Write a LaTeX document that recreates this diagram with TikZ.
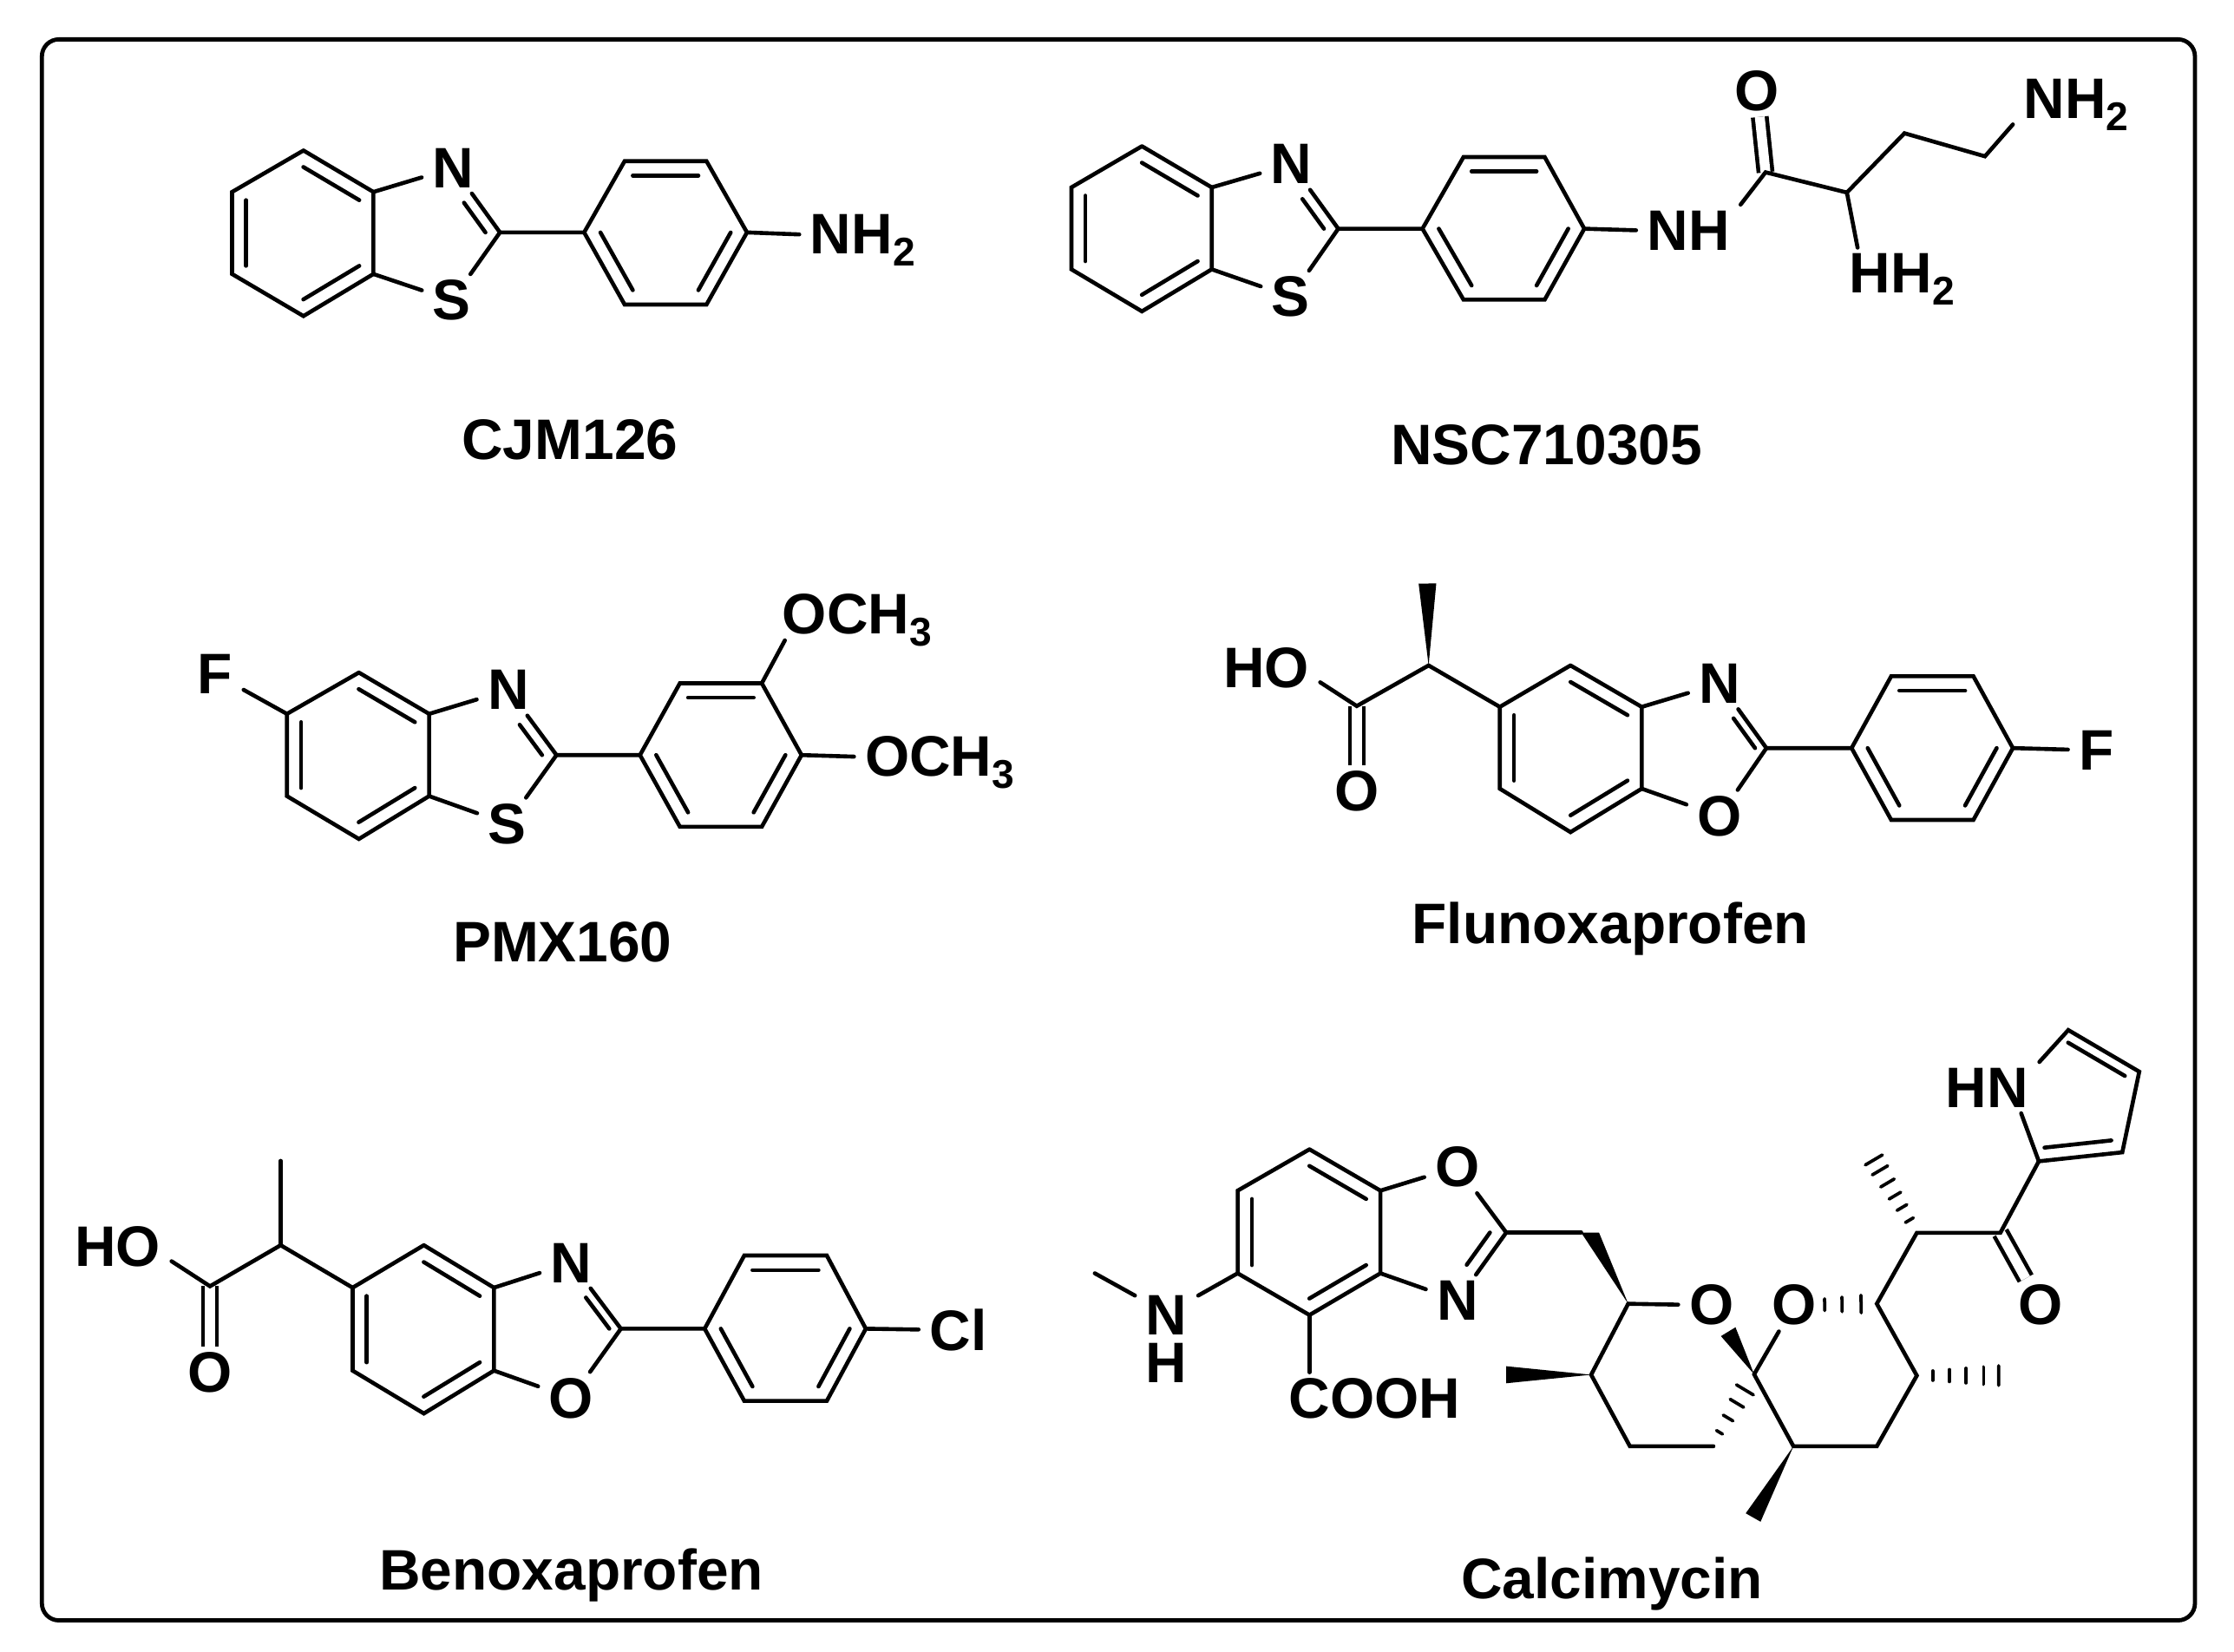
\documentclass[tikz,border=0pt]{standalone}
\usepackage{fontspec}
\setmainfont{Liberation Sans}
\usetikzlibrary{calc}
\tikzset{
	bond/.style={line width=0.8pt, line cap=round},
	dbond/.style={line width=0.8pt, double, double distance=1.96pt},
	wedgebond/.style={fill=black},
	atom/.style={font=\bfseries\fontsize{11.4}{13}\selectfont, inner xsep=2pt, inner ysep=1pt},
	molname/.style={font=\bfseries\fontsize{11.4}{13}\selectfont, inner sep=0pt, anchor=base},
	frame/.style={line width=0.83pt, rounded corners=3.4pt}
}
\newcommand{\subnum}[1]{\smash{\raisebox{-2.4pt}{\fontsize{8}{8}\selectfont #1}}}
\newcommand{\innerline}[4][]{\draw [bond,#1]($(#2)!.2!(#4)$)--($(#3)!.2!(#4)$);}
\newcommand{\hashbond}[3]{\foreach \t [evaluate=\t as \w using 0.7+1.3*\t] in {#3}{
	\draw [line width=0.65pt, line cap=round]($(#1)!\t!(#2)!\w pt!90:(#2)$)--($(#1)!\t!(#2)!\w pt!-90:(#2)$);}}
\begin{document}
\begin{tikzpicture}[x=0.01cm, y=-0.01cm]
	\useasboundingbox (0,0) rectangle (1568,1159);
	\coordinate (f1) at (29.4,27.6);
	\coordinate (f2) at (1540.6,1137.2);
	\draw [frame](f1) rectangle (f2);

	\coordinate (a1) at (213,105.6);
	\coordinate (a2) at (262.1,134.7);
	\coordinate (a3) at (262.1,192.3);
	\coordinate (a4) at (213,221.8);
	\coordinate (a5) at (162.9,192.3);
	\coordinate (a6) at (162.9,134.7);
	\coordinate (a7) at (350.9,163.1);
	\coordinate (ar) at (212.5,163.5);
	\coordinate (az) at (300,163.1);
	\node (an)[atom] at (318.2,117.8) {N};
	\node (as)[atom] at (317.2,210.8) {S};
	\coordinate (ap1) at (410,163.1);
	\coordinate (ap2) at (438.4,113.1);
	\coordinate (ap3) at (495.9,113.1);
	\coordinate (ap4) at (524.3,163.1);
	\coordinate (ap5) at (495.9,213.7);
	\coordinate (ap6) at (438.4,213.7);
	\coordinate (apc) at (467.2,163.3);
	\node (anh)[atom] at (605.5,164.5) {NH\subnum{2}};
	\draw [bond](a1)--(a2)--(a3)--(a4)--(a5)--(a6)--(a1);
	\draw [bond](a2)--(an);
	\draw [bond](a3)--(as);
	\draw [bond](an)--(a7)--(as);
	\draw [bond](a7)--(ap1)--(ap2)--(ap3)--(ap4)--(ap5)--(ap6)--(ap1);
	\draw [bond](ap4)--(anh.west);
	\innerline{a1}{a2}{ar}
	\innerline{a3}{a4}{ar}
	\innerline{a5}{a6}{ar}
	\innerline[shorten >=5.4pt]{a7}{an}{az}
	\innerline{ap2}{ap3}{apc}
	\innerline{ap1}{ap6}{apc}
	\innerline{ap4}{ap5}{apc}
	\node (cjm)[molname] at (400,322.5) {CJM126};

	\coordinate (b1) at (801.5,102.6);
	\coordinate (b2) at (850.5,131.5);
	\coordinate (b3) at (850.5,189);
	\coordinate (b4) at (801.5,218.5);
	\coordinate (b5) at (752,189);
	\coordinate (b6) at (752,131.5);
	\coordinate (b7) at (939.3,160.5);
	\coordinate (br) at (801.3,160.5);
	\coordinate (bz) at (889,160.5);
	\node (bn)[atom] at (906.5,115.2) {N};
	\node (bs)[atom] at (906,208.3) {S};
	\coordinate (bp1) at (998.4,160.5);
	\coordinate (bp2) at (1027.2,110.2);
	\coordinate (bp3) at (1084.2,110.2);
	\coordinate (bp4) at (1112,160.5);
	\coordinate (bp5) at (1084.2,210.3);
	\coordinate (bp6) at (1027.2,210.3);
	\coordinate (bpc) at (1055.7,160.5);
	\node (bnh)[atom] at (1185,161.6) {NH};
	\coordinate (b8) at (1239.2,120.9);
	\node (bo)[atom] at (1233.2,63.6) {O};
	\coordinate (b9) at (1296.3,135.1);
	\coordinate (b10) at (1336.7,93.5);
	\coordinate (b11) at (1393.2,109.7);
	\node (bnh2)[atom] at (1457.3,69.3) {NH\subnum{2}};
	\node (bhh)[atom] at (1335,191.8) {HH\subnum{2}};
	\draw [dbond](b8)--(bo);
	\draw [bond](b1)--(b2)--(b3)--(b4)--(b5)--(b6)--(b1);
	\draw [bond](b2)--(bn);
	\draw [bond](b3)--(bs);
	\draw [bond](bn)--(b7)--(bs);
	\draw [bond](b7)--(bp1)--(bp2)--(bp3)--(bp4)--(bp5)--(bp6)--(bp1);
	\draw [bond](bp4)--(bnh.west);
	\draw [bond](bnh.north east)--(b8)--(b9)--(b10)--(b11)--(bnh2.south west);
	\draw [bond](b9)--(bhh.150);
	\innerline{b1}{b2}{br}
	\innerline{b3}{b4}{br}
	\innerline{b5}{b6}{br}
	\innerline[shorten >=5.4pt]{b7}{bn}{bz}
	\innerline{bp2}{bp3}{bpc}
	\innerline{bp1}{bp6}{bpc}
	\innerline{bp4}{bp5}{bpc}
	\node (nsc)[molname] at (1085.5,326.2) {NSC710305};

	\coordinate (c1) at (251.9,472);
	\coordinate (c2) at (301.2,501);
	\coordinate (c3) at (301.2,558.7);
	\coordinate (c4) at (251.9,588.8);
	\coordinate (c5) at (201.4,558.7);
	\coordinate (c6) at (201.4,501);
	\coordinate (c7) at (390.6,529.9);
	\coordinate (cr) at (251.3,530);
	\coordinate (cz) at (340,529.9);
	\node (cf)[atom] at (151,473) {F};
	\node (cn)[atom] at (356.8,484.2) {N};
	\node (cs)[atom] at (356,578.2) {S};
	\coordinate (cp1) at (449.2,529.9);
	\coordinate (cp2) at (477.2,479.5);
	\coordinate (cp3) at (534.7,479.5);
	\coordinate (cp4) at (562.6,529.9);
	\coordinate (cp5) at (534.7,580.2);
	\coordinate (cp6) at (477.2,580.2);
	\coordinate (cpc) at (506,529.9);
	\node (cme1)[atom] at (601.5,431) {OCH\subnum{3}};
	\node (cme2)[atom] at (659.5,531) {OCH\subnum{3}};
	\draw [bond](c1)--(c2)--(c3)--(c4)--(c5)--(c6)--(c1);
	\draw [bond](c6)--(cf);
	\draw [bond](c2)--(cn);
	\draw [bond](c3)--(cs);
	\draw [bond](cn)--(c7)--(cs);
	\draw [bond](c7)--(cp1)--(cp2)--(cp3)--(cp4)--(cp5)--(cp6)--(cp1);
	\draw [bond](cp3)--(cme1.200);
	\draw [bond](cp4)--(cme2.west);
	\innerline{c1}{c2}{cr}
	\innerline{c3}{c4}{cr}
	\innerline{c5}{c6}{cr}
	\innerline[shorten >=5.4pt]{c7}{cn}{cz}
	\innerline{cp2}{cp3}{cpc}
	\innerline{cp1}{cp6}{cpc}
	\innerline{cp4}{cp5}{cpc}
	\node (pmx)[molname] at (394.8,675) {PMX160};

	\coordinate (d1) at (1102.3,467);
	\coordinate (d2) at (1152.3,496.1);
	\coordinate (d3) at (1152.3,553.5);
	\coordinate (d4) at (1102.3,584);
	\coordinate (d5) at (1052.7,553.5);
	\coordinate (d6) at (1052.7,496.1);
	\coordinate (d7) at (1239.8,525);
	\coordinate (dr) at (1102.5,525);
	\coordinate (dz) at (1200,525);
	\node (dn)[atom] at (1207,479.7) {N};
	\node (do)[atom] at (1207,572.8) {O};
	\coordinate (dp1) at (1299.6,525);
	\coordinate (dp2) at (1327.4,474.6);
	\coordinate (dp3) at (1385.1,474.6);
	\coordinate (dp4) at (1412.8,525);
	\coordinate (dp5) at (1385.1,575.4);
	\coordinate (dp6) at (1327.4,575.4);
	\coordinate (dpc) at (1356,525);
	\node (df)[atom] at (1471.4,526.6) {F};
	\coordinate (d8) at (1002.7,467);
	\coordinate (d9) at (952.3,495.5);
	\coordinate (dm) at (1001.9,409.5);
	\node (dho)[atom] at (888.8,468.7) {HO};
	\node (do2)[atom] at (952.3,555.5) {O};
	\draw [dbond](d9)--(do2);
	\draw [bond](d1)--(d2)--(d3)--(d4)--(d5)--(d6)--(d1);
	\draw [bond](d2)--(dn);
	\draw [bond](d3)--(do);
	\draw [bond](dn)--(d7)--(do);
	\draw [bond](d7)--(dp1)--(dp2)--(dp3)--(dp4)--(dp5)--(dp6)--(dp1);
	\draw [bond](dp4)--(df);
	\draw [bond](d6)--(d8)--(d9)--(dho.-15);
	\fill [wedgebond](d8)--($(dm)!1.76pt!90:(d8)$)--($(dm)!1.76pt!-90:(d8)$)--cycle;
	\innerline{d1}{d2}{dr}
	\innerline{d3}{d4}{dr}
	\innerline{d5}{d6}{dr}
	\innerline[shorten >=5.4pt]{d7}{dn}{dz}
	\innerline{dp2}{dp3}{dpc}
	\innerline{dp1}{dp6}{dpc}
	\innerline{dp4}{dp5}{dpc}
	\node (flu)[molname] at (1130.3,662.2) {Flunoxaprofen};

	\coordinate (e1) at (297.5,873.9);
	\coordinate (e2) at (346.7,903.7);
	\coordinate (e3) at (346.7,961.9);
	\coordinate (e4) at (297.5,992);
	\coordinate (e5) at (247.5,961.9);
	\coordinate (e6) at (247.5,903.7);
	\coordinate (e7) at (435.8,932.5);
	\coordinate (er) at (297.1,932.9);
	\coordinate (ez) at (395,932.5);
	\node (en)[atom] at (401,886.2) {N};
	\node (eo)[atom] at (401,981.2) {O};
	\coordinate (ep1) at (494.6,932.5);
	\coordinate (ep2) at (522.4,881.1);
	\coordinate (ep3) at (580.3,881.1);
	\coordinate (ep4) at (607.7,932.5);
	\coordinate (ep5) at (580.3,983.2);
	\coordinate (ep6) at (522.4,983.2);
	\coordinate (epc) at (551.2,932.5);
	\node (ecl)[atom] at (672.5,933.5) {Cl};
	\coordinate (e8) at (197,873.9);
	\coordinate (e9) at (147.4,902.7);
	\coordinate (em) at (197,814.7);
	\node (eho)[atom] at (82.6,875) {HO};
	\node (eo2)[atom] at (147.4,963.3) {O};
	\draw [dbond](e9)--(eo2);
	\draw [bond](e1)--(e2)--(e3)--(e4)--(e5)--(e6)--(e1);
	\draw [bond](e2)--(en);
	\draw [bond](e3)--(eo);
	\draw [bond](en)--(e7)--(eo);
	\draw [bond](e7)--(ep1)--(ep2)--(ep3)--(ep4)--(ep5)--(ep6)--(ep1);
	\draw [bond](ep4)--(ecl);
	\draw [bond](e6)--(e8)--(e9)--(eho.-15);
	\draw [bond](e8)--(em);
	\innerline{e1}{e2}{er}
	\innerline{e3}{e4}{er}
	\innerline{e5}{e6}{er}
	\innerline[shorten >=5.4pt]{e7}{en}{ez}
	\innerline{ep2}{ep3}{epc}
	\innerline{ep1}{ep6}{epc}
	\innerline{ep4}{ep5}{epc}
	\node (ben)[molname] at (401,1116) {Benoxaprofen};

	\coordinate (g1) at (919.1,806.6);
	\coordinate (g2) at (968.9,835.6);
	\coordinate (g3) at (968.9,893.6);
	\coordinate (g4) at (919.1,922.9);
	\coordinate (g5) at (868.7,893.6);
	\coordinate (g6) at (868.7,835.6);
	\coordinate (g7) at (1057.2,865);
	\coordinate (gr) at (918.8,864.9);
	\coordinate (gz) at (1000,865);
	\node (go)[atom] at (1023,819) {O};
	\node (gn)[atom] at (1023,912.6) {N};
	\node (gnh)[atom, align=center, font=\bfseries\fontsize{11.4}{9.6}\selectfont] at (818.8,939.8) {N\\H};
	\coordinate (gm) at (768.4,893.6);
	\node (gco)[atom] at (965,981.5) {COOH};
	\coordinate (g8) at (1109.8,865);
	\coordinate (g9) at (1142.8,915);
	\node (go1)[atom] at (1201.2,916) {O};
	\coordinate (g10) at (1116.8,964.8);
	\coordinate (gm2) at (1057.2,964.8);
	\coordinate (g11) at (1144,1015);
	\coordinate (g12) at (1202.6,1015);
	\coordinate (g13) at (1231.2,964.5);
	\coordinate (gm3) at (1213,934.6);
	\coordinate (gd1) at (1206.9,1005.2);
	\coordinate (gd2) at (1225.1,974.8);
	\node (go2)[atom] at (1259.2,916) {O};
	\coordinate (g14) at (1258.8,1015);
	\coordinate (gm4) at (1230.5,1065);
	\coordinate (g15) at (1317.3,1015);
	\coordinate (g16) at (1345.4,965.4);
	\coordinate (gm5) at (1404,965.4);
	\coordinate (g17) at (1317.3,915);
	\coordinate (g18) at (1345.4,865.2);
	\coordinate (gm6) at (1314.6,813);
	\coordinate (g19) at (1404,865.2);
	\node (go3)[atom] at (1432,915.6) {O};
	\coordinate (g20) at (1431,815);
	\coordinate (g21) at (1489.6,808.7);
	\coordinate (g22) at (1501.5,752.1);
	\coordinate (g23) at (1451.7,722.9);
	\coordinate (gpc) at (1451,767);
	\node (ghn)[atom] at (1394.7,763.3) {HN};
	\draw [dbond](g19)--(go3);
	\draw [bond](g1)--(g2)--(g3)--(g4)--(g5)--(g6)--(g1);
	\draw [bond](g2)--(go);
	\draw [bond](g3)--(gn);
	\draw [bond](go)--(g7)--(gn);
	\draw [bond](g7)--(g8);
	\draw [bond](g5)--(gnh.54);
	\draw [bond](gnh.126)--(gm);
	\draw [bond](g4)--(g4|-gco.north);
	\draw [bond](g9)--(go1);
	\draw [bond](g9)--(g10)--(g11)--(g12);
	\draw [bond](g13)--(go2);
	\draw [bond](g13)--(g14)--(g15)--(g16)--(g17)--(g18)--(g19)--(g20);
	\draw [bond](g20)--(g21)--(g22)--(g23)--(ghn.north east);
	\draw [bond](g20)--(ghn.-37);
	\fill [wedgebond](g8)--($(g8)+(12.5,0)$)--(g9)--cycle;
	\fill [wedgebond](g10)--($(gm2)!1.7pt!90:(g10)$)--($(gm2)!1.7pt!-90:(g10)$)--cycle;
	\fill [wedgebond](g13)--($(gm3)!1.7pt!90:(g13)$)--($(gm3)!1.7pt!-90:(g13)$)--cycle;
	\fill [wedgebond](g14)--($(gm4)!1.7pt!90:(g14)$)--($(gm4)!1.7pt!-90:(g14)$)--cycle;
	\hashbond{gd1}{gd2}{0,0.33,0.67,0.98}
	\hashbond{g16}{gm5}{0.19,0.39,0.59,0.8,0.98}
	\hashbond{g18}{gm6}{0.17,0.34,0.5,0.67,0.84,0.98}
	\hashbond{go2}{g17}{0.37,0.58,0.81}
	\innerline{g1}{g2}{gr}
	\innerline{g3}{g4}{gr}
	\innerline{g5}{g6}{gr}
	\innerline[shorten >=5.4pt]{g7}{gn}{gz}
	\innerline{g20}{g21}{gpc}
	\innerline{g22}{g23}{gpc}
	\node (cal)[molname] at (1131.4,1122) {Calcimycin};
\end{tikzpicture}
\end{document}
